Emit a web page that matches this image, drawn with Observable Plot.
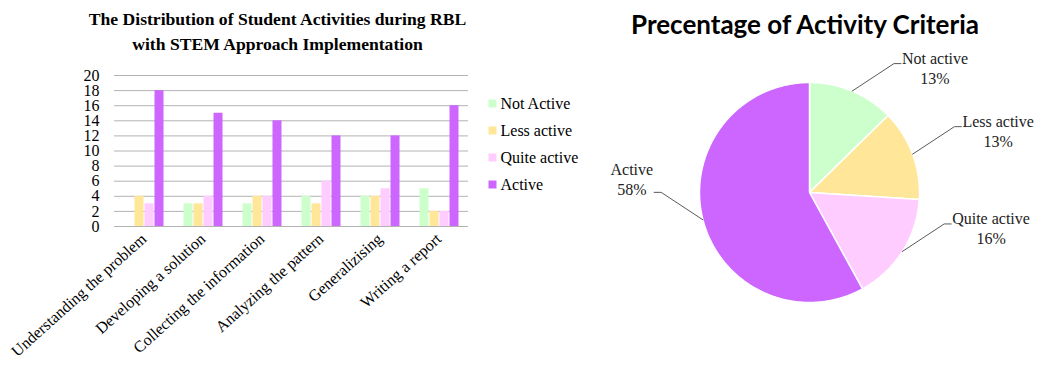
<!DOCTYPE html>
<html><head><meta charset="utf-8">
<script src="https://cdn.jsdelivr.net/npm/d3@7"></script>
<script src="https://cdn.jsdelivr.net/npm/@observablehq/plot@0.6"></script>
<style>
body{margin:0;background:#fff;}
#wrap{position:relative;width:1044px;height:374px;overflow:hidden;background:#fff;}
.abs{position:absolute;}
#wrap svg text{font-family:"Liberation Serif",serif !important;font-size:16px !important;}
#t1{left:0;top:7px;width:555px;text-align:center;font:bold 17.6px/25px "Liberation Serif",serif;color:#000;}
#t2{left:590px;top:7px;width:430px;text-align:center;font:bold 26px/34px "Lato",sans-serif;color:#000;white-space:nowrap;}
</style></head>
<body><div id="wrap">
<div id="t1" class="abs">The Distribution of Student Activities during RBL<br>with STEM Approach Implementation</div>
<div id="bar" class="abs" style="left:0;top:0"></div>
<div id="leg" class="abs" style="left:476px;top:88px"></div>
<div id="t2" class="abs">Precentage of Activity Criteria</div>
<div id="pie" class="abs" style="left:590px;top:0"></div>
</div>
<script>
// ---- data ----
const categories = ["Understanding the problem","Developing a solution","Collecting the information","Analyzing the pattern","Generalizising","Writing a report"];
const series = ["Not Active","Less active","Quite active","Active"];
const notActive   = [0, 3, 3, 4, 4, 5];
const lessActive  = [4, 3, 4, 3, 4, 2];
const quiteActive = [3, 4, 4, 6, 5, 2];
const active      = [18, 15, 14, 12, 12, 16];
const yTicks = [0, 2, 4, 6, 8, 10, 12, 14, 16, 18, 20];
const pieLabels = ["Not active","Less active","Quite active","Active"];
const colors = ["#ccffcc","#ffe699","#ffccff","#cc66ff"];

const seriesValues = [notActive, lessActive, quiteActive, active];
const barData = categories.flatMap((c, i) => series.map((s, j) => ({activity: c, series: s, value: seriesValues[j][i]})));

// ---- bar chart ----
const bar = Plot.plot({
  width: 480, height: 374,
  marginLeft: 111, marginRight: 10, marginTop: 75, marginBottom: 148,
  style: {fontFamily: "Liberation Serif", fontSize: "16px", color: "#000", background: "transparent", overflow: "visible"},
  fx: {domain: categories, paddingInner: 0, paddingOuter: 0, label: null, tickRotate: -42, tickSize: 0, tickPadding: 10},
  x: {domain: series, axis: null, paddingInner: 0, paddingOuter: 0.75},
  y: {domain: [0, 20], ticks: yTicks, tickSize: 0, tickPadding: 15, label: null},
  color: {domain: series, range: colors},
  marks: [
    Plot.ruleY(yTicks, {stroke: "#b3b3b3", strokeWidth: 1}),
    Plot.barY(barData, {fx: "activity", x: "series", y: "value", fill: "series", insetLeft: 0.5, insetRight: 0.5})
  ]
});
document.getElementById("bar").appendChild(bar);

// ---- legend ----
const leg = Plot.plot({
  width: 110, height: 110, marginTop: 0, marginBottom: 0, marginLeft: 0, marginRight: 0,
  style: {fontFamily: "Liberation Serif", fontSize: "16px", color: "#000", background: "transparent", overflow: "visible"},
  y: {domain: series, axis: null, type: "point", padding: 0.5},
  color: {domain: series, range: colors},
  marks: [
    Plot.dot(series, {y: d => d, frameAnchor: "left", dx: 16, symbol: "square", r: 4.5, fill: d => d, stroke: null}),
    Plot.text(series, {y: d => d, text: d => d, frameAnchor: "left", textAnchor: "start", dx: 24, fill: "#000"})
  ]
});
document.getElementById("leg").appendChild(leg);

// ---- pie chart ----
const totals = seriesValues.map(a => d3.sum(a));
const grand = d3.sum(totals);
const arcs = d3.pie().sort(null)(totals);
const slicePts = [];
arcs.forEach((a, i) => {
  const k = pieLabels[i];
  slicePts.push({k, x: 0, y: 0});
  const n = Math.max(2, Math.ceil((a.endAngle - a.startAngle) / 0.01));
  for (let s = 0; s <= n; s++) {
    const t = a.startAngle + (a.endAngle - a.startAngle) * s / n;
    slicePts.push({k, x: Math.sin(t), y: Math.cos(t)});
  }
  slicePts.push({k, x: 0, y: 0});
});
const R = 110;
const ctx = document.createElement("canvas").getContext("2d");
ctx.font = "16px 'Liberation Serif'";
const leaderPts = [];
const labelData = [];
arcs.forEach((a, i) => {
  const k = pieLabels[i];
  const m = (a.startAngle + a.endAngle) / 2;
  const ax = Math.sin(m), ay = Math.cos(m);
  const side = ax >= 0 ? 1 : -1;
  const ex = ax + side * 0.38, ey = ay + 0.25;
  const tx = ex + side * 7 / R;
  leaderPts.push({k, x: ax, y: ay}, {k, x: ex, y: ey}, {k, x: tx, y: ey});
  const pct = Math.round(totals[i] / grand * 100) + "%";
  const w = Math.max(ctx.measureText(k).width, ctx.measureText(pct).width);
  labelData.push({k, x: tx, y: ey, text: k + "\n" + pct, dx: side * (w / 2 + 1), dy: side > 0 ? 4 : -14});
});
const pie = Plot.plot({
  width: 454, height: 374,
  marginLeft: 109, marginRight: 125, marginTop: 82, marginBottom: 72,
  style: {fontFamily: "Liberation Serif", fontSize: "16px", color: "#000", background: "transparent", overflow: "visible"},
  x: {domain: [-1, 1], axis: null},
  y: {domain: [-1, 1], axis: null},
  color: {domain: pieLabels, range: colors},
  marks: [
    Plot.line(slicePts, {x: "x", y: "y", z: "k", fill: "k", stroke: "white", strokeWidth: 1.5, curve: "linear-closed"}),
    Plot.line(leaderPts, {x: "x", y: "y", z: "k", stroke: "#595959", strokeWidth: 1}),
    ...labelData.map(d => Plot.text([d], {x: "x", y: "y", text: "text", dx: d.dx, dy: d.dy, textAnchor: "middle", lineAnchor: "middle", lineHeight: 1.25, fill: "#222"}))
  ]
});
document.getElementById("pie").appendChild(pie);
</script>
</body></html>
